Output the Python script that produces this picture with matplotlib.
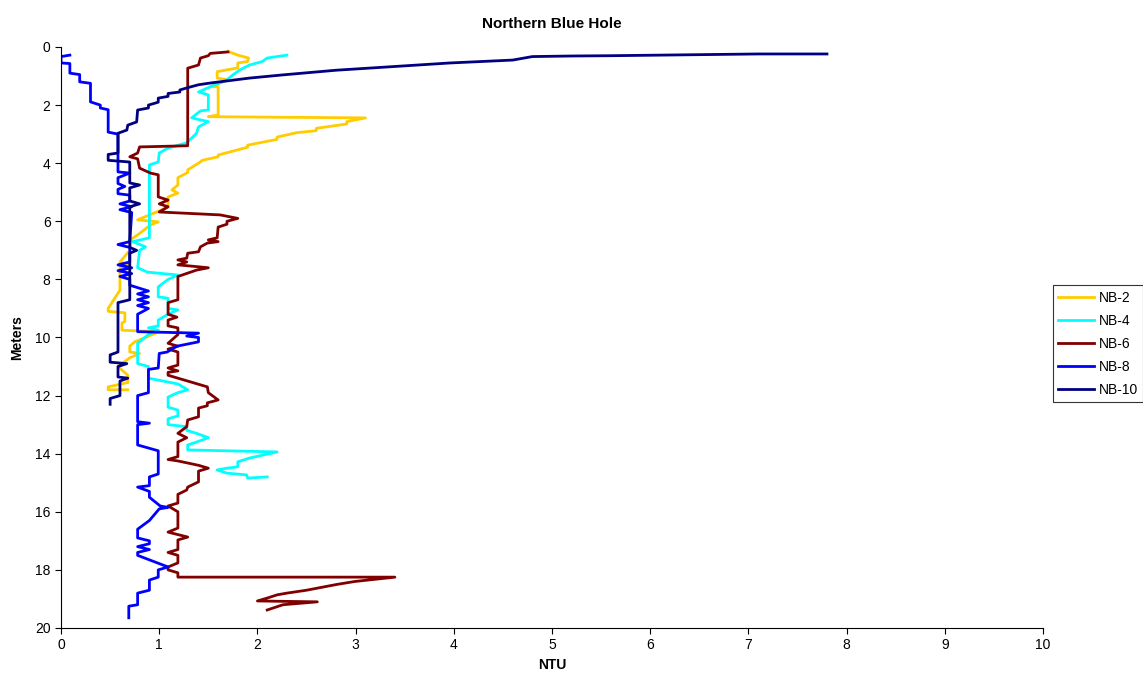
import matplotlib
matplotlib.use("Agg")
import matplotlib.pyplot as plt

plt.rcParams["font.family"] = ["Liberation Sans", "DejaVu Sans"]

# depth profiles: NTU vs depth (m)
nb2_ntu = [1.70, 1.80, 1.91, 1.90, 1.80, 1.80, 1.59, 1.59, 1.70, 1.52, 1.60, 1.60, 1.50, 3.10, 2.91,
           2.91, 2.60, 2.60, 2.40, 2.20, 2.20, 1.90, 1.90, 1.60, 1.60, 1.44, 1.40, 1.29, 1.29, 1.19,
           1.19, 1.13, 1.19, 1.09, 1.09, 1.03, 0.78, 0.99,
           0.91, 0.78, 0.72, 0.70, 0.60, 0.70, 0.60, 0.60, 0.48, 0.48, 0.65, 0.65, 0.62, 0.62, 1.00,
           0.86, 0.75, 0.70, 0.70, 0.80, 0.70, 0.58, 0.68, 0.68, 0.48, 0.48, 0.68]
nb2_depth = [0.15, 0.28, 0.38, 0.50, 0.55, 0.72, 0.85, 1.07, 1.13, 1.37, 1.37, 2.34, 2.40, 2.44, 2.57,
             2.65, 2.80, 2.88, 2.95, 3.10, 3.18, 3.38, 3.45, 3.72, 3.78, 3.90, 4.00, 4.23, 4.32, 4.50,
             4.75, 4.92, 5.03, 5.16, 5.50, 5.60, 5.95, 6.02,
             6.13, 6.47, 6.60, 7.00, 7.40, 7.50, 7.60, 8.37, 9.00, 9.10, 9.15, 9.45, 9.50, 9.75, 9.80,
             10.00, 10.15, 10.30, 10.50, 10.55, 10.70, 11.00, 11.30, 11.55, 11.70, 11.80, 11.80]

nb4_ntu = [2.30, 2.10, 2.05, 1.92, 1.82, 1.75, 1.69, 1.52, 1.40, 1.50, 1.50, 1.42, 1.33, 1.50, 1.40,
           1.38, 1.28, 1.09, 1.00, 0.99, 0.90, 0.90, 0.73, 0.86, 0.80, 0.78, 0.88, 1.19, 1.09, 0.99,
           0.99, 1.09, 1.09, 1.19, 1.09, 0.99, 0.99, 0.89, 0.99, 0.89, 0.78, 0.78, 0.89, 0.89, 1.19,
           1.29, 1.19, 1.09, 1.09, 1.19, 1.19, 1.09, 1.09, 1.28, 1.28, 1.38, 1.50, 1.38, 1.29, 1.29,
           2.20, 1.92, 1.80, 1.80, 1.69, 1.59, 1.69, 1.89, 1.90, 2.10]
nb4_depth = [0.28, 0.38, 0.50, 0.62, 0.79, 0.96, 1.13, 1.37, 1.55, 1.65, 2.17, 2.20, 2.44, 2.57, 2.75,
             2.97, 3.30, 3.48, 3.65, 3.96, 4.06, 6.57, 6.70, 6.88, 7.00, 7.60, 7.75, 7.85, 8.00, 8.26,
             8.60, 8.65, 9.00, 9.05, 9.20, 9.40, 9.60, 9.67, 9.75, 9.90, 10.20, 10.90, 11.00, 11.40, 11.60,
             11.80, 11.90, 12.05, 12.40, 12.50, 12.70, 12.80, 13.00, 13.07, 13.20, 13.30, 13.45, 13.60, 13.70, 13.87,
             13.94, 14.15, 14.28, 14.45, 14.50, 14.56, 14.67, 14.73, 14.84, 14.80]

nb6_ntu = [1.70, 1.52, 1.50, 1.42, 1.40, 1.29, 1.29, 0.80, 0.78, 0.70, 0.78, 0.80, 0.91, 0.99, 0.99,
           1.09, 1.00, 1.09, 1.00, 1.62, 1.80, 1.69, 1.69, 1.60, 1.59, 1.50, 1.60, 1.49, 1.42, 1.40,
           1.29, 1.28, 1.19, 1.28, 1.19, 1.38, 1.50, 1.38, 1.19, 1.19, 1.09, 1.09, 1.18, 1.09, 1.09,
           1.19, 1.19, 1.09, 1.19, 1.09, 1.19, 1.19, 1.09, 1.19, 1.09, 1.09, 1.29, 1.49, 1.50, 1.60,
           1.49, 1.49, 1.40, 1.40, 1.29, 1.28, 1.19, 1.28, 1.19, 1.19, 1.09, 1.19, 1.40, 1.50, 1.40,
           1.40, 1.29, 1.28, 1.19, 1.19, 1.09, 1.19, 1.19, 1.09, 1.29, 1.19, 1.19, 1.09, 1.19, 1.19,
           1.09, 1.09, 1.19, 1.19, 3.40, 2.99, 2.81, 2.50, 2.30, 2.20, 2.10, 2.00, 2.61, 2.26, 2.10]
nb6_depth = [0.17, 0.22, 0.30, 0.38, 0.62, 0.73, 3.40, 3.44, 3.65, 3.78, 3.85, 4.17, 4.34, 4.40, 5.16,
             5.27, 5.40, 5.50, 5.68, 5.78, 5.90, 6.00, 6.10, 6.20, 6.57, 6.64, 6.70, 6.75, 6.88, 7.05,
             7.10, 7.27, 7.33, 7.40, 7.50, 7.56, 7.60, 7.68, 7.90, 8.70, 8.80, 9.20, 9.30, 9.40, 9.60,
             9.67, 9.90, 10.20, 10.30, 10.40, 10.50, 10.95, 11.05, 11.15, 11.20, 11.30, 11.50, 11.70, 11.90, 12.15,
             12.25, 12.35, 12.43, 12.73, 12.84, 13.07, 13.30, 13.45, 13.60, 14.10, 14.20, 14.25, 14.40, 14.50, 14.60,
             14.97, 15.15, 15.25, 15.40, 15.70, 15.80, 16.00, 16.56, 16.70, 16.87, 16.97, 17.30, 17.40, 17.50, 17.76,
             17.90, 18.00, 18.10, 18.25, 18.25, 18.40, 18.50, 18.70, 18.80, 18.86, 18.97, 19.07, 19.10, 19.20, 19.38]

nb8_ntu = [0.09, 0.00, 0.00, 0.09, 0.09, 0.19, 0.19, 0.30, 0.30, 0.40, 0.40, 0.48, 0.48, 0.58, 0.58,
           0.70, 0.58, 0.58, 0.65, 0.58, 0.58, 0.70, 0.70, 0.60, 0.72, 0.60, 0.72, 0.70, 0.58, 0.70,
           0.70, 0.58, 0.72, 0.58, 0.72, 0.60, 0.70, 0.70, 0.89, 0.78, 0.89, 0.78, 0.89, 0.78, 0.89,
           0.78, 0.78, 1.40, 1.28, 1.40, 1.40, 1.18, 1.08, 1.00, 0.99, 0.89, 0.89, 0.78, 0.78, 0.90,
           0.78, 0.78, 0.99, 0.99, 0.90, 0.90, 0.78, 0.90, 0.90, 1.01, 1.09, 1.00, 0.90, 0.78, 0.78,
           0.90, 0.90, 0.78, 0.90, 0.78, 0.78, 1.09, 0.99, 0.99, 0.90, 0.90, 0.78, 0.78, 0.69, 0.69]
nb8_depth = [0.28, 0.33, 0.55, 0.57, 0.90, 0.95, 1.20, 1.25, 1.89, 2.00, 2.10, 2.16, 2.93, 3.00, 4.30,
             4.34, 4.50, 4.70, 4.80, 4.90, 5.05, 5.10, 5.30, 5.40, 5.50, 5.60, 5.70, 6.70, 6.80, 6.90,
             7.40, 7.50, 7.60, 7.70, 7.80, 7.90, 8.00, 8.20, 8.40, 8.50, 8.60, 8.70, 8.80, 8.90, 9.00,
             9.20, 9.80, 9.85, 9.95, 10.00, 10.15, 10.30, 10.50, 10.55, 11.05, 11.10, 11.90, 12.00, 12.90, 12.95,
             13.00, 13.70, 13.90, 14.70, 14.80, 15.10, 15.15, 15.30, 15.50, 15.80, 15.85, 15.90, 16.30, 16.60, 16.90,
             17.00, 17.10, 17.20, 17.30, 17.40, 17.50, 17.90, 18.00, 18.25, 18.35, 18.70, 18.80, 19.20, 19.25, 19.65]

nb10_ntu = [7.80, 7.10, 6.60, 6.10, 5.60, 5.20, 4.80, 4.60, 3.96, 3.45, 2.80, 2.26, 1.92, 1.52, 1.40,
            1.29, 1.21, 1.21, 1.09, 1.09, 0.99, 0.99, 0.89, 0.89, 0.78, 0.77, 0.68, 0.67, 0.58, 0.58,
            0.48, 0.48, 0.70, 0.70, 0.80, 0.70,
            0.70, 0.80, 0.70, 0.70, 0.77, 0.70, 0.70, 0.58, 0.58, 0.50, 0.50, 0.67, 0.58, 0.58, 0.68,
            0.60, 0.60, 0.50, 0.50]
nb10_depth = [0.24, 0.24, 0.26, 0.28, 0.30, 0.31, 0.33, 0.45, 0.55, 0.66, 0.80, 0.96, 1.07, 1.24, 1.30,
              1.40, 1.48, 1.55, 1.60, 1.70, 1.76, 1.90, 2.00, 2.10, 2.17, 2.58, 2.69, 2.86, 2.97, 3.65,
              3.70, 3.90, 3.96, 4.68, 4.75, 4.85,
              5.30, 5.40, 5.50, 6.90, 7.00, 7.10, 8.70, 8.80, 10.50, 10.60, 10.85, 10.90, 11.00, 11.36, 11.40,
              11.50, 12.00, 12.10, 12.30]

labels = ["NB-2", "NB-4", "NB-6", "NB-8", "NB-10"]
colors = ["#FFCC00", "#00FFFF", "#800000", "#0000FF", "#000080"]
series = [(nb2_ntu, nb2_depth), (nb4_ntu, nb4_depth), (nb6_ntu, nb6_depth),
          (nb8_ntu, nb8_depth), (nb10_ntu, nb10_depth)]

fig = plt.figure(figsize=(11.43, 6.84), dpi=100)
ax = fig.add_axes([0.0534, 0.0819, 0.8591, 0.8494])

for (x, d), lab, col in zip(series, labels, colors):
    ax.plot(x, d, color=col, lw=2, label=lab)

ax.set_xlim(0, 10)
ax.set_ylim(20, 0)
ax.set_xticks(range(0, 11))
ax.set_yticks(range(0, 21, 2))
ax.tick_params(direction="out", length=4, labelsize=10)
for s in ["top", "right"]:
    ax.spines[s].set_visible(False)

ax.set_title("Northern Blue Hole", fontsize=11, fontweight="bold", pad=14)
ax.set_xlabel("NTU", fontsize=10, fontweight="bold", labelpad=4)
ax.set_ylabel("Meters", fontsize=10, fontweight="bold", labelpad=8)

leg = ax.legend(loc="upper left", bbox_to_anchor=(0.921, 0.583), bbox_transform=fig.transFigure,
                fontsize=10, frameon=True, fancybox=False, edgecolor="black",
                handlelength=2.6, labelspacing=0.65, borderpad=0.4, handletextpad=0.3,
                borderaxespad=0)
leg.get_frame().set_linewidth(0.8)

fig.savefig("out.png", dpi=100)
